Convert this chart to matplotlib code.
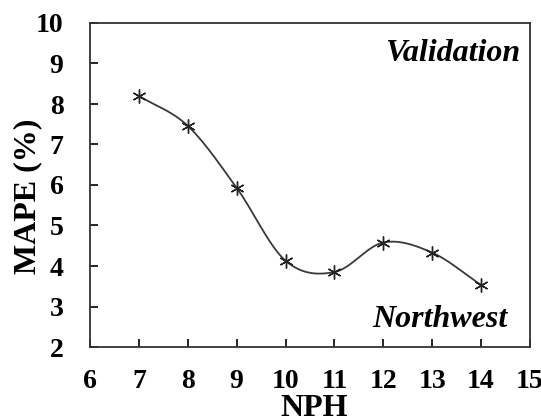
import numpy as np
import matplotlib
matplotlib.use("Agg")
import matplotlib.pyplot as plt

# =========================
# Data
# =========================
nph = [7, 8, 9, 10, 11, 12, 13, 14]
mape = [8.20, 7.46, 5.93, 4.13, 3.85, 4.58, 4.33, 3.53]


def smooth_line(x, y, n=30):
    # Catmull-Rom curve through the points (like a "smoothed line" chart)
    x = np.asarray(x, float)
    y = np.asarray(y, float)
    px = np.concatenate([[2 * x[0] - x[1]], x, [2 * x[-1] - x[-2]]])
    py = np.concatenate([[2 * y[0] - y[1]], y, [2 * y[-1] - y[-2]]])
    xs, ys = [], []
    t = np.linspace(0, 1, n)
    for i in range(1, len(px) - 2):
        for p, out in ((px, xs), (py, ys)):
            p0, p1, p2, p3 = p[i - 1], p[i], p[i + 1], p[i + 2]
            out.extend(0.5 * (2 * p1 + (-p0 + p2) * t
                              + (2 * p0 - 5 * p1 + 4 * p2 - p3) * t ** 2
                              + (-p0 + 3 * p1 - 3 * p2 + p3) * t ** 3))
    return np.array(xs), np.array(ys)


plt.rcParams["font.family"] = "Liberation Serif"
plt.rcParams["font.weight"] = "bold"

fig = plt.figure(figsize=(5.41, 4.19), dpi=100)
ax = fig.add_axes([90 / 541, 72 / 419, 440 / 541, 324 / 419])

sx, sy = smooth_line(nph, mape)
ax.plot(sx, sy, color="#3a3a3a", linewidth=1.3)
ax.plot(nph, mape, linestyle="none", marker=(6, 2, 0), markersize=10,
        markeredgecolor="#222222", markeredgewidth=1.0)

ax.set_xlim(6, 15)
ax.set_ylim(2, 10)
ax.set_xticks(range(6, 16))
ax.set_yticks(range(2, 11))
ax.tick_params(direction="in", length=6, width=1.2, labelsize=20,
               top=False, right=False)
ax.tick_params(axis="x", pad=16)
ax.tick_params(axis="y", pad=19)
for lab in ax.get_xticklabels() + ax.get_yticklabels():
    lab.set_fontweight("bold")

for s in ax.spines.values():
    s.set_linewidth(1.3)
    s.set_color("#333333")

ax.set_xlabel("NPH", fontsize=23, fontweight="bold")
ax.xaxis.set_label_coords(0.51, -0.145)
ax.set_ylabel("MAPE (%)", fontsize=23, fontweight="bold")
ax.yaxis.label.set_va("center")
ax.yaxis.set_label_coords(-0.141, 0.466)

ax.text(0.977, 0.884, "Validation", transform=ax.transAxes, ha="right",
        va="baseline", fontsize=23, fontweight="bold", style="italic")
ax.text(0.95, 0.063, "Northwest", transform=ax.transAxes, ha="right",
        va="baseline", fontsize=23, fontweight="bold", style="italic")

fig.savefig("out.png", dpi=100)
